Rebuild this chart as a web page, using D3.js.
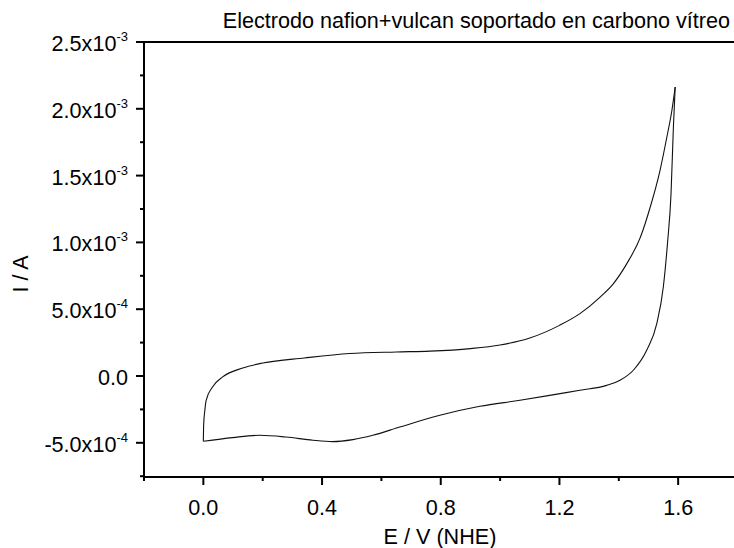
<!DOCTYPE html>
<html>
<head>
<meta charset="utf-8">
<script src="https://cdn.jsdelivr.net/npm/d3@7"></script>
<style>
    html, body { margin: 0; padding: 0; background: #fff; }
    svg { display: block; font-family: "Liberation Sans", Arial, sans-serif; }
</style>
</head>
<body>
<div id="chart"></div>
<script>
// Positive-going sweep (E in V, I in A)
const forwardE = [0.000, 0.001, 0.005, 0.0095, 0.031, 0.065, 0.133, 0.200, 0.341, 0.493, 0.650, 0.763,
                  0.900, 1.000, 1.100, 1.200, 1.269, 1.337, 1.382, 1.427, 1.473, 1.506, 1.539, 1.562, 1.579, 1.590];
const forwardI = [-4.89e-4, -3.69e-4, -2.57e-4, -1.82e-4, -0.82e-4, -0.07e-4, 0.60e-4, 0.97e-4, 1.35e-4, 1.68e-4, 1.80e-4, 1.86e-4,
                  2.05e-4, 2.32e-4, 2.84e-4, 3.79e-4, 4.67e-4, 5.91e-4, 6.92e-4, 8.41e-4, 1.040e-3, 1.265e-3, 1.540e-3, 1.789e-3, 1.989e-3, 2.163e-3];

// Negative-going sweep, back to 0 V
const reverseE = [1.590, 1.584, 1.576, 1.564, 1.550, 1.528, 1.494, 1.449, 1.404, 1.359, 1.269, 1.202,
                  1.067, 0.932, 0.797, 0.662, 0.571, 0.504, 0.436, 0.369, 0.279, 0.189, 0.099, 0.000];
const reverseI = [2.163e-3, 1.864e-3, 1.365e-3, 0.991e-3, 0.666e-3, 0.392e-3, 0.192e-3, 0.043e-3, -0.032e-3, -0.070e-3, -0.107e-3, -0.132e-3,
                  -1.82e-4, -2.27e-4, -2.94e-4, -3.82e-4, -4.44e-4, -4.76e-4, -4.91e-4, -4.81e-4, -4.57e-4, -4.44e-4, -4.61e-4, -4.89e-4];

// Axis ticks
const xTicks = [0.0, 0.4, 0.8, 1.2, 1.6];
const xMinorTicks = [-0.2, 0.2, 0.6, 1.0, 1.4];
const yTicks = [2.5e-3, 2.0e-3, 1.5e-3, 1.0e-3, 5.0e-4, 0, -5.0e-4];
const yTickMantissa = ['2.5', '2.0', '1.5', '1.0', '5.0', '0.0', '-5.0'];
const yTickExponent = ['-3', '-3', '-3', '-3', '-4', '', '-4'];
const yMinorTicks = [2.25e-3, 1.75e-3, 1.25e-3, 7.5e-4, 2.5e-4, -2.5e-4, -7.5e-4];

const titleText = 'Electrodo nafion+vulcan soportado en carbono vítreo';
const xLabel = 'E / V (NHE)';
const yLabel = 'I / A';

const W = 734, H = 548;
const svg = d3.select('#chart').append('svg').attr('width', W).attr('height', H);

const x = d3.scaleLinear().domain([-0.2, 1.8]).range([144, 737.5]);
const y = d3.scaleLinear().domain([-7.56e-4, 2.5e-3]).range([477, 42]);

const fontSize = 21.6;

// Top frame line (no ticks)
svg.append('line')
    .attr('x1', x(-0.2)).attr('x2', W)
    .attr('y1', y(2.5e-3)).attr('y2', y(2.5e-3))
    .attr('stroke', '#000').attr('stroke-width', 2);

// Minor ticks first, then major ones with labels
svg.append('g')
    .attr('transform', 'translate(0,' + y.range()[0] + ')')
    .call(d3.axisBottom(x).tickValues(xMinorTicks).tickSize(4).tickSizeOuter(0).tickFormat('').offset(0))
    .call(g => g.select('.domain').remove())
    .selectAll('line').attr('stroke-width', 2);

svg.append('g')
    .attr('transform', 'translate(' + x.range()[0] + ',0)')
    .call(d3.axisLeft(y).tickValues(yMinorTicks).tickSize(4).tickSizeOuter(0).tickFormat('').offset(0))
    .call(g => g.select('.domain').remove())
    .selectAll('line').attr('stroke-width', 2);

const xAxis = svg.append('g')
    .attr('transform', 'translate(0,' + y.range()[0] + ')')
    .call(d3.axisBottom(x).tickValues(xTicks).tickSize(8).tickSizeOuter(0).tickPadding(15)
        .tickFormat(d3.format('.1f')).offset(0));
xAxis.select('.domain').attr('stroke-width', 2);
xAxis.selectAll('.tick line').attr('stroke-width', 2);
xAxis.selectAll('.tick text')
    .attr('font-size', fontSize).attr('font-family', null).attr('fill', '#000');

const yAxis = svg.append('g')
    .attr('transform', 'translate(' + x.range()[0] + ',0)')
    .call(d3.axisLeft(y).tickValues(yTicks).tickSize(8).tickSizeOuter(0).tickFormat('').offset(0));
yAxis.select('.domain').attr('stroke-width', 2);
yAxis.selectAll('.tick line').attr('stroke-width', 2);

// Y tick labels with a superscript exponent
const yLab = yAxis.selectAll('.tick').append('text')
    .attr('x', -16).attr('y', 9)
    .attr('text-anchor', 'end')
    .attr('fill', '#000')
    .attr('font-size', fontSize);
yLab.each(function (d, i) {
    const t = d3.select(this);
    if (yTickExponent[i]) {
        t.append('tspan').text(yTickMantissa[i] + 'x10');
        t.append('tspan').attr('font-size', 13).attr('dy', -10).text(yTickExponent[i]);
    } else {
        t.text(yTickMantissa[i]);
    }
});

// Curve
const line = d3.line()
    .x(d => x(d[0]))
    .y(d => y(d[1]))
    .curve(d3.curveMonotoneX);

const forward = forwardE.map((e, i) => [e, forwardI[i]]);
const reverse = reverseE.map((e, i) => [e, reverseI[i]]).reverse();

svg.selectAll('path.cv')
    .data([forward, reverse])
    .enter().append('path')
    .attr('class', 'cv')
    .attr('d', line)
    .attr('fill', 'none')
    .attr('stroke', '#111')
    .attr('stroke-width', 1.1);

// Title and axis titles
svg.append('text')
    .attr('x', 730).attr('y', 28)
    .attr('text-anchor', 'end')
    .attr('font-size', fontSize)
    .text(titleText);

svg.append('text')
    .attr('x', 440).attr('y', 544)
    .attr('text-anchor', 'middle')
    .attr('font-size', fontSize)
    .text(xLabel);

svg.append('text')
    .attr('transform', 'translate(28,274) rotate(-90)')
    .attr('text-anchor', 'middle')
    .attr('font-size', fontSize)
    .text(yLabel);
</script>
</body>
</html>
